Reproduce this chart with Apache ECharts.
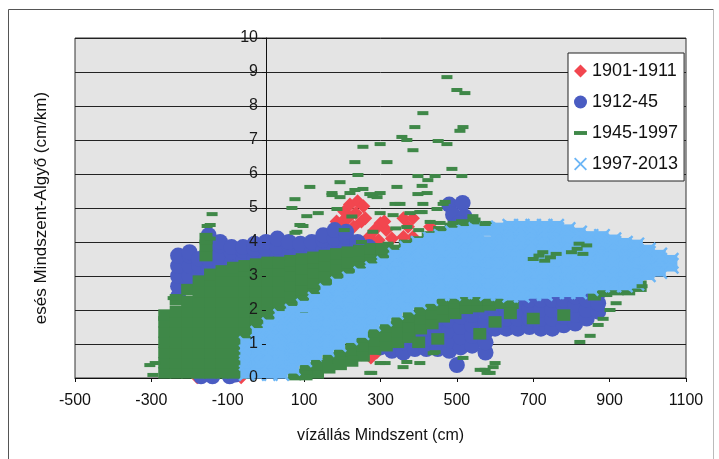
<!DOCTYPE html>
<html><head><meta charset="utf-8">
<script src="https://cdn.jsdelivr.net/npm/echarts@6/dist/echarts.min.js"></script>
<style>html,body{margin:0;padding:0;background:#fff}#c{width:719px;height:459px}</style>
</head><body><div id="c"></div>
<script>
// ---- data: [x, y1, y2, ...] columns or [x, y] points ----
const seriesNames = ['1901-1911', '1912-45', '1945-1997', '1997-2013'];
const xLabel = 'vízállás Mindszent (cm)';
const yLabel = 'esés Mindszent-Algyő (cm/km)';

const redCols = [
  [200, 4.6], [205, 4.9], [220, 5.1], [240, 5.2], [255, 5.05], [215, 4.7], [235, 4.85],
  [250, 4.6], [230, 4.45], [260, 4.7], [180, 4.3], [185, 4.6], [195, 4.1],
  [270, 4.15], [285, 4.35], [300, 4.55], [315, 4.35], [330, 4.1], [295, 4.05], [310, 4.6],
  [360, 4.7, 4.15], [385, 4.7, 4.15], [372, 4.45], [430, 4.45],
  [250, 0.7], [275, 0.6], [290, 0.75], [-180, 0.02], [-75, 0.12], [-65, 0.02]
];

const blueCols = [
  [-230, 2.4, 2.7, 3.0, 3.3, 3.6], [-200, 2.7, 3.0, 3.3, 3.6, 3.7], [-175, 3.0, 3.3, 3.5],
  [-150, 3.2, 3.5, 3.8, 4.2], [-120, 3.3, 3.6, 3.9, 4.0], [-90, 3.4, 3.7, 3.85],
  [-60, 3.45, 3.75, 3.85], [-30, 3.5, 3.8, 3.95], [0, 3.5, 3.8, 4.0], [30, 3.55, 3.85, 4.1],
  [60, 3.6, 3.9, 4.0], [90, 3.65, 3.95], [120, 3.7, 4.0], [150, 3.75, 4.05, 4.2],
  [180, 3.8, 4.1, 4.35], [210, 3.85, 4.15, 4.3], [240, 3.9, 4.0], [270, 3.85],
  [480, 5.1], [515, 5.15], [490, 4.8], [520, 4.75], [505, 4.55],
  [-170, 0.05], [-140, 0.05], [-95, 0.05], [-80, 0.1],
  [300, 0.9, 1.15], [330, 0.8, 1.1, 1.4], [360, 0.75, 1.05, 1.35], [390, 0.85, 1.15, 1.45, 1.7],
  [420, 0.85, 1.15, 1.45, 1.75], [450, 0.85, 1.15, 1.45, 1.75], [480, 0.8, 1.1, 1.4, 1.7, 2.0],
  [500, 0.38], [510, 0.9, 1.2, 1.5, 1.8, 2.1], [540, 0.95, 1.25, 1.55, 1.85, 2.15],
  [575, 0.75, 1.05, 1.35, 1.65, 1.95, 2.2], [600, 1.45, 1.75, 2.0, 2.2], [630, 1.45, 1.75, 2.0, 2.25],
  [660, 1.45, 1.75, 2.0, 2.25], [690, 1.5, 1.75, 2.05, 2.3], [720, 1.45, 1.75, 2.0, 2.3],
  [750, 1.45, 1.75, 2.0, 2.3], [780, 1.55, 1.8, 2.1, 2.3], [810, 1.6, 1.85, 2.15, 2.4],
  [840, 1.75, 2.0, 2.3], [870, 1.95, 2.2, 2.5]
];

const greenCols = [
  [-265, 0.15, 0.45, 0.75, 1.05, 1.35, 1.65, 1.85],
  [-235, 0.15, 0.45, 0.75, 1.05, 1.35, 1.65, 1.95, 2.3],
  [-205, 0.15, 0.45, 0.75, 1.05, 1.35, 1.65, 1.95, 2.25, 2.6],
  [-175, 0.15, 0.45, 0.75, 1.05, 1.35, 1.65, 1.95, 2.25, 2.55, 2.85],
  [-157, 3.6, 3.9, 4.1],
  [-145, 0.15, 0.45, 0.75, 1.05, 1.35, 1.65, 1.95, 2.25, 2.55, 2.85, 3.05],
  [-115, 0.15, 0.45, 0.75, 1.05, 1.35, 1.65, 1.95, 2.25, 2.55, 2.85, 3.15],
  [-85, 0.15, 0.45, 0.75, 1.05, 1.35, 1.65, 1.95, 2.25, 2.55, 2.85, 3.15, 3.25],
  [-55, 0.15, 0.45, 0.75, 1.05, 1.35, 1.65, 1.95, 2.25, 2.55, 2.85, 3.15, 3.3],
  [-25, 1.05, 1.35, 1.65, 1.95, 2.25, 2.55, 2.85, 3.15, 3.35],
  [5, 1.35, 1.65, 1.95, 2.25, 2.55, 2.85, 3.15, 3.4],
  [35, 1.65, 1.95, 2.25, 2.55, 2.85, 3.15, 3.4],
  [65, 1.8, 2.1, 2.4, 2.7, 3.0, 3.3, 3.45],
  [95, 2.0, 2.3, 2.6, 2.9, 3.2, 3.5],
  [125, 2.2, 2.5, 2.8, 3.1, 3.4, 3.55],
  [155, 2.4, 2.7, 3.0, 3.3, 3.6],
  [185, 2.6, 2.9, 3.2, 3.5, 3.65],
  [215, 2.8, 3.1, 3.4, 3.7],
  [245, 3.0, 3.3, 3.6, 3.75],
  [275, 3.1, 3.4, 3.7, 3.8],
  [305, 3.3, 3.6, 3.8], [335, 3.5, 3.75], [365, 3.7, 3.9], [395, 3.85, 4.0],
  [425, 4.0, 4.15], [455, 4.1, 4.3], [485, 4.2, 4.4], [515, 4.3, 4.5], [545, 4.35, 4.55], [575, 4.45],
  [75, 0.1], [105, 0.1, 0.3], [135, 0.15, 0.4], [165, 0.3, 0.6], [195, 0.4, 0.7],
  [225, 0.5, 0.8, 1.05], [255, 0.65, 0.95, 1.2], [285, 0.85, 1.1, 1.35], [315, 0.95, 1.25, 1.5],
  [345, 1.05, 1.35, 1.65], [375, 1.2, 1.5, 1.8], [405, 1.45, 1.75, 2.0], [435, 1.6, 1.9, 2.15],
  [465, 1.8, 2.05, 2.3], [495, 1.9, 2.2, 2.35], [525, 2.05, 2.3], [555, 2.1, 2.3], [585, 2.15, 2.3],
  [615, 2.2], [645, 2.2],
  [400, 1.05], [450, 1.15], [560, 1.3], [600, 1.65], [640, 1.9], [700, 1.75], [780, 1.85],
  [860, 2.45], [890, 2.55], [920, 2.6], [950, 2.6], [980, 2.7]
];

const greenDashes = [
  [474, 8.85], [500, 8.47], [521, 8.38], [411, 7.79], [390, 7.38], [516, 7.38], [508, 7.27],
  [356, 7.09], [369, 7.0], [451, 6.97], [474, 6.88], [299, 6.88], [254, 6.8], [385, 6.7],
  [233, 6.35], [317, 6.35], [487, 6.15], [241, 5.97], [398, 5.94], [443, 5.94], [513, 5.94],
  [424, 5.82], [194, 5.76], [409, 5.65], [115, 5.62], [343, 5.62], [254, 5.56], [233, 5.53],
  [173, 5.44], [422, 5.44], [299, 5.44], [280, 5.35], [194, 5.32], [76, 5.26], [351, 5.12],
  [469, 5.18], [68, 5.0], [448, 4.97], [186, 4.97], [107, 4.76], [137, 4.85], [409, 4.88],
  [-141, 4.82], [97, 4.47], [81, 4.3], [-154, 4.47], [574, 4.53], [542, 4.76],
  [220, 5.44], [272, 5.41], [291, 5.32], [398, 5.41], [411, 5.12], [464, 5.12], [338, 5.12],
  [377, 4.85], [403, 4.88], [333, 4.79], [299, 4.85], [456, 4.56], [430, 4.59], [490, 4.56],
  [516, 4.59], [369, 4.44], [89, 4.5], [76, 4.27], [173, 5.38],
  [225, 4.75], [280, 4.3], [340, 4.4], [400, 4.35], [250, 4.0], [320, 3.95], [205, 4.35],
  [272, 0.15], [312, 0.44], [359, 0.32], [403, 0.44], [443, 0.76], [516, 0.59], [561, 0.24],
  [600, 0.44], [595, 0.32], [579, 0.15], [822, 1.06], [849, 1.24], [870, 1.56], [883, 1.74],
  [901, 2.0], [917, 2.2], [985, 2.7], [299, 0.44], [369, 0.47], [438, 0.73], [574, 0.24],
  [587, 0.15], [277, 0.15], [160, 0.47], [194, 0.68], [228, 0.59], [107, 0.15],
  [-290, 0.44], [-304, 0.38], [-296, 0.09], [-243, 2.35], [-146, 4.5], [-146, 4.1],
  [700, 3.5], [715, 3.6], [730, 3.45], [745, 3.55], [760, 3.65], [725, 3.7],
  [800, 3.7], [815, 3.8], [830, 3.65], [840, 3.9], [820, 3.95]
];

const lightBlueCols = [
  [-50, 0.15, 0.45, 0.75, 1.0],
  [-20, 0.15, 0.45, 0.75, 1.05, 1.3],
  [10, 0.15, 0.45, 0.75, 1.05, 1.35, 1.55],
  [40, 0.15, 0.45, 0.75, 1.05, 1.35, 1.65, 1.8],
  [70, 0.3, 0.6, 0.9, 1.2, 1.5, 1.8, 1.95],
  [100, 0.55, 0.85, 1.15, 1.45, 1.75, 2.1],
  [130, 0.7, 1.0, 1.3, 1.6, 1.9, 2.2, 2.3],
  [160, 0.85, 1.15, 1.45, 1.75, 2.05, 2.35, 2.55],
  [190, 1.0, 1.3, 1.6, 1.9, 2.2, 2.5, 2.75],
  [220, 1.2, 1.5, 1.8, 2.1, 2.4, 2.7, 2.9],
  [250, 1.35, 1.65, 1.95, 2.25, 2.55, 2.85, 3.05],
  [280, 1.6, 1.9, 2.2, 2.5, 2.8, 3.1, 3.2],
  [310, 1.75, 2.05, 2.35, 2.65, 2.95, 3.25, 3.35],
  [340, 1.95, 2.25, 2.55, 2.85, 3.15, 3.45, 3.6],
  [370, 2.1, 2.4, 2.7, 3.0, 3.3, 3.6, 3.8],
  [400, 2.25, 2.55, 2.85, 3.15, 3.45, 3.75, 3.95],
  [430, 2.35, 2.65, 2.95, 3.25, 3.55, 3.85, 4.1],
  [460, 2.5, 2.8, 3.1, 3.4, 3.7, 4.0, 4.15],
  [490, 2.5, 2.8, 3.1, 3.4, 3.7, 4.0, 4.25],
  [520, 2.55, 2.85, 3.15, 3.45, 3.75, 4.05, 4.3],
  [550, 2.55, 2.85, 3.15, 3.45, 3.75, 4.05, 4.35],
  [580, 2.5, 2.8, 3.1, 3.4, 3.7, 4.0, 4.35],
  [610, 2.5, 2.8, 3.1, 3.4, 3.7, 4.0, 4.3, 4.4],
  [640, 2.45, 2.75, 3.05, 3.35, 3.65, 3.95, 4.25, 4.45],
  [670, 2.45, 2.75, 3.05, 3.35, 3.65, 3.95, 4.25, 4.45],
  [700, 2.5, 2.8, 3.1, 3.4, 3.7, 4.0, 4.3, 4.45],
  [730, 2.5, 2.8, 3.1, 3.4, 3.7, 4.0, 4.3, 4.45],
  [760, 2.55, 2.85, 3.15, 3.45, 3.75, 4.05, 4.35, 4.45],
  [790, 2.55, 2.85, 3.15, 3.45, 3.75, 4.05, 4.35],
  [820, 2.55, 2.85, 3.15, 3.45, 3.75, 4.05, 4.25],
  [850, 2.65, 2.95, 3.25, 3.55, 3.85, 4.15],
  [880, 2.75, 3.05, 3.35, 3.65, 3.95, 4.15],
  [910, 2.75, 3.05, 3.35, 3.65, 3.95, 4.05],
  [940, 2.75, 3.05, 3.35, 3.65, 3.95],
  [970, 2.8, 3.1, 3.4, 3.7, 3.9],
  [1000, 3.05, 3.35, 3.65, 3.75],
  [1030, 3.15, 3.45, 3.6],
  [1060, 3.3, 3.45]
];

// reshape [x, y1, y2...] columns into [x, y] pairs (no new values are created)
const toPairs = cols => cols.flatMap(c => c.slice(1).map(y => [c[0], y]));

const FONT = '"Liberation Sans", Arial, sans-serif';
const C_RED = '#f2464f', C_BLUE = '#4a5cc2', C_GREEN = '#3f8848', C_LB = '#6cb6f6';
const X_ICON = 'path://M1,0 L5,4 L9,0 L10,1 L6,5 L10,9 L9,10 L5,6 L1,10 L0,9 L4,5 L0,1 Z';
const DASH_ICON = 'path://M0,0 L10,0 L10,3 L0,3 Z';

const GRID_LEFT = 75, GRID_W = 611, X_MIN = -500, X_MAX = 1100;
// shift of the labelled y-axis so it sits on x = 0 (same place as the onZero axis line)
const yLabelOffset = -GRID_W * (0 - X_MIN) / (X_MAX - X_MIN);

const lbPairs = toPairs(lightBlueCols);

const chart = echarts.init(document.getElementById('c'), null, { renderer: 'canvas' });
chart.setOption({
  animation: false,
  backgroundColor: '#fff',
  textStyle: { fontFamily: FONT },
  graphic: [
    { type: 'line', shape: { x1: 8.5, y1: 9.5, x2: 713.5, y2: 9.5 }, style: { stroke: '#555', lineWidth: 1 } },
    { type: 'line', shape: { x1: 8.5, y1: 9.5, x2: 8.5, y2: 459 }, style: { stroke: '#555', lineWidth: 1 } },
    { type: 'line', shape: { x1: 713.5, y1: 9.5, x2: 713.5, y2: 459 }, style: { stroke: '#bbb', lineWidth: 1 } }
  ],
  grid: {
    left: GRID_LEFT, width: GRID_W, top: 38, bottom: 81,
    containLabel: false, outerBoundsMode: 'none',
    show: true, backgroundColor: '#e4e4e4', borderColor: '#333', borderWidth: 1
  },
  legend: {
    orient: 'vertical', left: 568, top: 53,
    backgroundColor: '#fff', borderColor: '#222', borderWidth: 1,
    padding: [9, 6, 8, 6], itemWidth: 13, itemHeight: 13, itemGap: 13,
    textStyle: { fontSize: 18, color: '#111', fontFamily: FONT },
    data: [
      { name: seriesNames[0], icon: 'diamond' },
      { name: seriesNames[1], icon: 'circle' },
      { name: seriesNames[2], icon: DASH_ICON },
      { name: seriesNames[3], icon: X_ICON }
    ]
  },
  xAxis: {
    type: 'value', min: X_MIN, max: X_MAX, interval: 200,
    name: xLabel, nameLocation: 'middle', nameGap: 50, nameMoveOverlap: false,
    nameTextStyle: { fontSize: 16, color: '#111', fontFamily: FONT },
    axisLine: { show: true, onZero: false, lineStyle: { color: '#111', width: 1 } },
    axisTick: { show: true, length: 4, lineStyle: { color: '#111' } },
    axisLabel: { fontSize: 16, color: '#111', margin: 15, fontFamily: FONT, formatter: v => String(v) },
    splitLine: { show: false }
  },
  yAxis: [{
    type: 'value', min: 0, max: 10, interval: 1,
    axisLine: { show: true, onZero: true, lineStyle: { color: '#111', width: 1 } },
    axisTick: { show: false },
    axisLabel: { show: false },
    splitLine: { show: true, lineStyle: { color: '#222', width: 1 } }
  }, {
    type: 'value', min: 0, max: 10, interval: 1, position: 'left', offset: yLabelOffset, z: 20,
    name: yLabel, nameLocation: 'middle', nameGap: 216, nameMoveOverlap: false,
    nameTextStyle: { fontSize: 17, color: '#111', fontFamily: FONT },
    axisLine: { show: false, onZero: false },
    axisTick: { show: true, length: 4, lineStyle: { color: '#111' } },
    axisLabel: { fontSize: 16, color: '#1a1a1a', margin: 8, fontFamily: FONT,
      textBorderWidth: 0, textBorderColor: 'transparent', textShadowBlur: 0, opacity: 1,
      formatter: v => String(v) },
    splitLine: { show: false }
  }],
  series: [
    { name: seriesNames[0], type: 'scatter', data: toPairs(redCols), symbol: 'diamond', symbolSize: 14,
      itemStyle: { color: C_RED, opacity: 1 } },
    { name: seriesNames[1], type: 'scatter', data: toPairs(blueCols), symbol: 'circle', symbolSize: 16,
      itemStyle: { color: C_BLUE, opacity: 1 } },
    { name: seriesNames[2], type: 'scatter', data: toPairs(greenCols), symbol: 'rect', symbolSize: [13, 11.5],
      itemStyle: { color: C_GREEN, opacity: 1 } },
    { name: seriesNames[3], type: 'scatter', data: lbPairs, symbol: 'rect', symbolSize: [13, 11.5],
      itemStyle: { color: C_LB, opacity: 1 } },
    { name: seriesNames[3], type: 'scatter', data: lbPairs, symbol: X_ICON, symbolSize: 17,
      itemStyle: { color: C_LB, opacity: 1 } },
    { name: seriesNames[2], type: 'scatter', data: greenDashes, symbol: 'rect', symbolSize: [11, 4],
      itemStyle: { color: C_GREEN, opacity: 1 } }
  ]
});
</script>
</body></html>
